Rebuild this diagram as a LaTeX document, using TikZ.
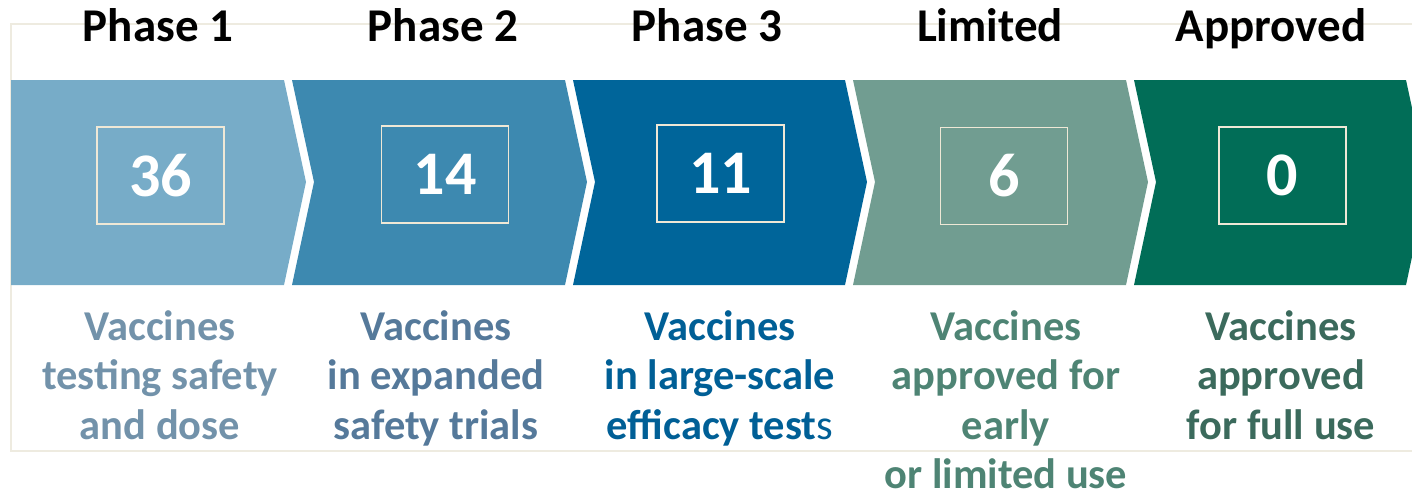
\documentclass[tikz,border=0pt]{standalone}
\usepackage{fontspec}
\setmainfont{Carlito}
\definecolor{frame}{HTML}{EEEBE0}
\definecolor{boxline}{HTML}{EFE8D6}
\definecolor{c1}{HTML}{77ACC8}
\definecolor{c2}{HTML}{3D89B0}
\definecolor{c3}{HTML}{00659A}
\definecolor{c4}{HTML}{719D91}
\definecolor{c5}{HTML}{016D57}
\definecolor{t1}{HTML}{7292AA}
\definecolor{t2}{HTML}{55799A}
\definecolor{t3}{HTML}{005F96}
\definecolor{t4}{HTML}{4E8474}
\definecolor{t5}{HTML}{3B6A5C}
\tikzset{
  numbox/.style={draw=boxline, line width=1.6pt, minimum width=127pt, minimum height=97pt,
    inner sep=0pt, text=white, font=\fontsize{62}{62}\selectfont\bfseries},
  title/.style={anchor=base, inner sep=0pt, text=black, font=\fontsize{47}{47}\selectfont\bfseries},
  desc/.style={anchor=base, inner sep=0pt, align=center, font=\fontsize{42.5}{49.5}\selectfont\bfseries}
}
\begin{document}
\begin{tikzpicture}[x=1pt,y=-1pt]
\useasboundingbox (0,0) rectangle (1412,493);
\clip (0,0) rectangle (1412,493);
% frame
\draw[frame, line width=2pt] (11,24) rectangle (1430,451);
% chevrons
\fill[c1] (11,80) -- (284,80) -- (306,182) -- (284,285) -- (11,285) -- cycle;
\fill[c2] (292,80) -- (565,80) -- (587,182) -- (565,285) -- (292,285) -- (314,182) -- cycle;
\fill[c3] (573,80) -- (845,80) -- (867,182) -- (845,285) -- (573,285) -- (595,182) -- cycle;
\fill[c4] (853,80) -- (1126,80) -- (1148,182) -- (1126,285) -- (853,285) -- (875,182) -- cycle;
\fill[c5] (1134,80) -- (1406,80) -- (1428,182) -- (1406,285) -- (1134,285) -- (1156,182) -- cycle;
% number boxes
\node[numbox] (n1) at (160.5,175.5) {36};
\node[numbox] (n2) at (445,174.5) {14};
\node[numbox] (n3) at (720.5,173.5) {11};
\node[numbox] (n4) at (1004,176) {6};
\node[numbox] (n5) at (1282.5,175.5) {0};
% titles
\node[title] (h1) at (158,41) {Phase 1};
\node[title] (h2) at (443,41) {Phase 2};
\node[title] (h3) at (707,41) {Phase 3};
\node[title] (h4) at (990,41) {Limited};
\node[title] (h5) at (1271,41) {Approved};
% descriptions (base = baseline of the last line)
\node[desc, text=t1] (d1) at (160,439) {Vaccines\\testing safety\\and dose};
\node[desc, text=t2] (d2) at (436,439) {Vaccines\\in expanded\\safety trials};
\node[desc, text=t3] (d3) at (720,439) {Vaccines\\in large-scale\\efficacy test{\mdseries s}};
\node[desc, text=t4] (d4) at (1006,488.5) {Vaccines\\approved for\\early\\or limited use};
\node[desc, text=t5] (d5) at (1281,439) {Vaccines\\approved\\for full use};
\end{tikzpicture}
\end{document}
